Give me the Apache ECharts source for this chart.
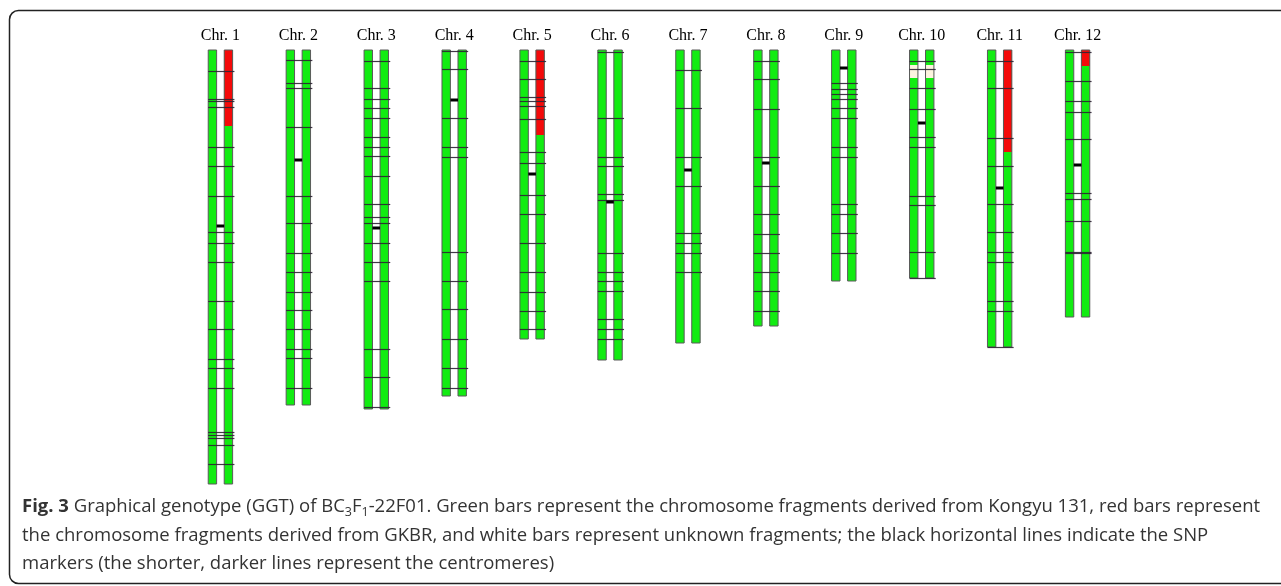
<!DOCTYPE html>
<html>
<head>
<meta charset="utf-8">
<script src="https://cdn.jsdelivr.net/npm/echarts@6/dist/echarts.min.js"></script>
<style>
  html, body { margin: 0; padding: 0; background: #fff; }
  #chart { width: 1281px; height: 586px; }
</style>
</head>
<body>
<div id="chart"></div>
<script>
// chromosome names and lengths (Mb)
const chrNames = ['Chr. 1', 'Chr. 2', 'Chr. 3', 'Chr. 4', 'Chr. 5', 'Chr. 6',
                  'Chr. 7', 'Chr. 8', 'Chr. 9', 'Chr. 10', 'Chr. 11', 'Chr. 12'];
const chrLengths = [43.4, 35.5, 35.9, 34.6, 28.9, 31.0, 29.3, 27.6, 23.1, 22.8, 29.7, 26.7];
const centromeres = [17.6, 11.0, 17.8, 5.0, 12.4, 15.2, 12.0, 11.3, 1.8, 7.3, 13.8, 11.5];

// SNP marker positions (Mb) per chromosome
const markers = [
    [2.1, 4.9, 5.1, 5.7, 9.7, 11.6, 14.6, 18.2, 19.3, 21.2, 25.1, 27.9, 30.9, 31.8, 33.8, 38.2, 38.5, 38.8, 39.5, 41.4],
    [1.0, 3.3, 3.8, 7.7, 14.6, 17.3, 20.3, 22.2, 24.2, 26.0, 27.9, 29.9, 30.8, 33.8],
    [1.1, 3.8, 4.9, 5.8, 6.8, 8.7, 9.7, 10.6, 12.6, 15.4, 16.7, 17.3, 19.3, 21.2, 23.1, 29.9, 32.7, 35.7],
    [0.1, 1.9, 6.8, 9.7, 10.7, 20.2, 23.1, 25.9, 28.9, 31.8, 33.8],
    [1.1, 2.9, 4.7, 5.1, 5.6, 6.9, 10.2, 11.3, 14.5, 16.4, 19.3, 22.2, 24.2, 26.1, 27.9],
    [0.2, 6.8, 10.7, 11.6, 14.4, 15.0, 20.3, 22.2, 23.1, 24.1, 26.9, 27.9, 28.9],
    [2.0, 5.8, 10.7, 13.6, 18.3, 19.3, 20.3, 22.2],
    [1.1, 2.9, 5.9, 10.7, 13.6, 16.4, 18.4, 20.3, 22.2, 24.1, 26.1],
    [3.3, 3.9, 4.4, 4.9, 5.8, 6.8, 9.7, 10.7, 15.4, 16.4, 18.3, 20.3],
    [1.1, 1.9, 3.8, 5.9, 8.7, 9.7, 14.6, 15.5, 20.2, 22.75],
    [1.1, 3.8, 8.8, 11.6, 15.4, 18.2, 20.2, 21.2, 25.1, 26.1, 29.65],
    [0.2, 3.1, 5.1, 6.2, 8.9, 14.3, 14.9, 17.1, 20.2, 20.3]
];

// [chromosome, strand (0 left / 1 right), start, end]
const gkbrSegments = [[1, 1, 0, 7.6], [5, 1, 0, 8.5], [11, 1, 0, 10.2], [12, 1, 0, 1.6]];
const unknownSegments = [[10, 0, 1.5, 2.8], [10, 1, 1.5, 2.8]];

const GREEN = '#12ec12';
const RED = '#f40a0a';
const UNKNOWN = '#fcf4de';
const BAR_W = 8.4;

const barData = [];
chrLengths.forEach(function (len, i) {
    barData.push([i + 1, 0, 0, len]);
    barData.push([i + 1, 1, 0, len]);
});
const markerData = [];
markers.forEach(function (list, i) {
    list.forEach(function (p) { markerData.push([i + 1, p]); });
});
const centroData = centromeres.map(function (p, i) { return [i + 1, p]; });

function segment(fill, stroke) {
    return function (params, api) {
        const a = api.coord([api.value(0), api.value(2)]);
        const b = api.coord([api.value(0), api.value(3)]);
        const x = a[0] + (api.value(1) === 0 ? -12.2 : 3.8);
        return {
            type: 'rect',
            shape: { x: x, y: a[1], width: BAR_W, height: b[1] - a[1] },
            style: { fill: fill, stroke: stroke, lineWidth: stroke ? 1 : 0 }
        };
    };
}

const captionFont = { fontFamily: 'Open Sans', fontSize: 18.5, fill: '#333', verticalAlign: 'middle' };

const chart = echarts.init(document.getElementById('chart'));
chart.setOption({
    animation: false,
    grid: { left: 142.5, right: 125.5, top: 50, bottom: 96 },
    xAxis: {
        type: 'value', min: 0, max: 13, interval: 1, position: 'top',
        axisLine: { show: false }, axisTick: { show: false }, splitLine: { show: false },
        axisLabel: {
            formatter: function (v) { return chrNames[v - 1] || ''; },
            fontFamily: 'Liberation Serif', fontSize: 16, color: '#000', margin: 6
        }
    },
    yAxis: { type: 'value', inverse: true, min: 0, max: 44, show: false },
    graphic: [
        {
            type: 'rect', silent: true, z: -10,
            shape: { x: 9.5, y: 10.5, width: 1300, height: 573, r: 9 },
            style: { fill: 'none', stroke: '#222', lineWidth: 1.5 }
        },
        {
            type: 'text', x: 22, y: 507, silent: true,
            style: Object.assign({}, captionFont, {
                text: '{b|Fig. 3} Graphical genotype (GGT) of BC{s|3}F{s|1}-22F01. Green bars represent the chromosome fragments derived from Kongyu 131, red bars represent',
                rich: {
                    b: { fontFamily: 'Open Sans', fontSize: 18.5, fontWeight: 'bold', fill: '#333' },
                    s: { fontFamily: 'Open Sans', fontSize: 12.5, fill: '#333', padding: [10, 0, 0, 0] }
                }
            })
        },
        {
            type: 'text', x: 22, y: 536, silent: true,
            style: Object.assign({}, captionFont, {
                text: 'the chromosome fragments derived from GKBR, and white bars represent unknown fragments; the black horizontal lines indicate the SNP'
            })
        },
        {
            type: 'text', x: 22, y: 564, silent: true,
            style: Object.assign({}, captionFont, {
                text: 'markers (the shorter, darker lines represent the centromeres)'
            })
        }
    ],
    series: [
        {
            type: 'custom', z: 2, data: barData, encode: { x: 0, y: 2 },
            renderItem: segment(GREEN, null)
        },
        {
            type: 'custom', z: 3, data: gkbrSegments, encode: { x: 0, y: 2 },
            renderItem: segment(RED, null)
        },
        {
            type: 'custom', z: 3, data: unknownSegments, encode: { x: 0, y: 2 },
            renderItem: segment(UNKNOWN, null)
        },
        {
            type: 'custom', z: 4, data: barData, encode: { x: 0, y: 2 },
            renderItem: segment('none', '#5a5a5a')
        },
        {
            type: 'custom', z: 5, data: markerData, encode: { x: 0, y: 1 },
            renderItem: function (params, api) {
                const p = api.coord([api.value(0), api.value(1)]);
                const y = Math.round(p[1]) + 0.5;
                return {
                    type: 'line',
                    shape: { x1: p[0] - 12.2, y1: y, x2: p[0] + 14, y2: y },
                    style: { stroke: '#2e2434', lineWidth: 1.2, opacity: 0.9 }
                };
            }
        },
        {
            type: 'custom', z: 6, data: centroData, encode: { x: 0, y: 1 },
            renderItem: function (params, api) {
                const p = api.coord([api.value(0), api.value(1)]);
                return {
                    type: 'line',
                    shape: { x1: p[0] - 3.8, y1: p[1], x2: p[0] + 3.8, y2: p[1] },
                    style: { stroke: '#000', lineWidth: 3 }
                };
            }
        }
    ]
});
</script>
</body>
</html>
